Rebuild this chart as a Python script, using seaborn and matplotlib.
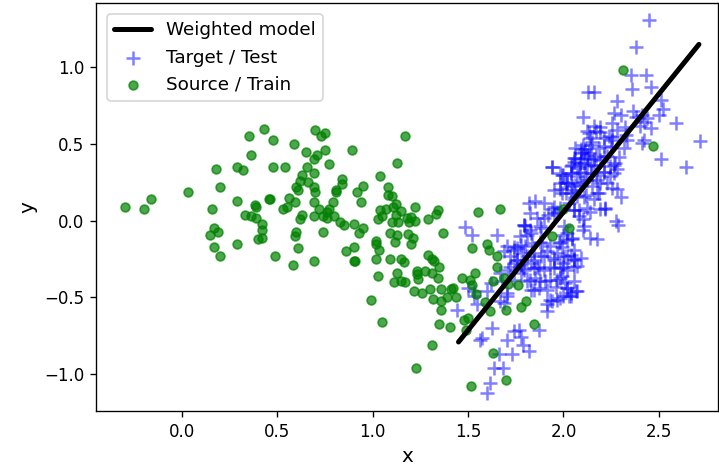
import matplotlib
matplotlib.use("Agg")
import matplotlib.pyplot as plt
import seaborn as sns

# source / train points (green)
src_x = [-0.30, -0.20, -0.16, 0.03, 0.18, 0.20, 0.16, 0.29, 0.35, 0.43, 0.36, 0.29, 0.32, 0.48, 0.48,
         0.385, 0.39, 0.455, 0.46, 0.33, 0.36, 0.39, 0.42, 0.42, 0.42, 0.40, 0.17, 0.15, 0.19, 0.29,
         0.17, 0.20, 0.49, 0.54, 0.59, 0.65, 0.70, 0.73, 0.75, 0.75, 0.71, 0.69, 0.77, 0.655, 0.63,
         0.69, 0.62, 0.66, 0.60, 0.61, 0.69, 0.70, 0.56, 0.595, 0.69, 0.58, 0.69, 0.61, 0.60, 0.595,
         0.53, 0.55, 0.63, 0.62, 0.69, 0.72, 0.74, 0.76, 0.77, 0.76, 0.79, 0.80, 0.74, 0.81, 0.81,
         0.84, 0.84, 0.89, 0.92, 0.95, 0.94, 0.83, 0.85, 0.90, 0.95, 0.93, 0.90, 0.86, 0.90, 0.91,
         1.04, 1.13, 1.17, 1.08, 1.08, 1.10, 1.04, 1.07, 1.105, 1.12, 1.15, 1.03, 1.05, 1.10, 1.12,
         1.135, 1.18, 1.09, 1.13, 1.115, 1.015, 1.02, 1.035, 1.02, 1.09, 1.15, 1.165, 1.125, 1.03,
         1.22, 1.20, 1.22, 1.19, 1.29, 1.34, 1.33, 1.37, 1.55, 1.67, 1.185, 1.21, 1.20, 1.29, 1.31,
         1.32, 1.35, 1.23, 1.23, 1.275, 1.31, 1.34, 1.24, 1.11, 1.15, 1.17, 1.215, 1.26, 1.30, 1.36,
         1.41, 1.42, 1.47, 1.51, 1.535, 1.52, 1.60, 1.61, 1.65, 1.65, 1.63, 1.52, 1.05, 1.225, 1.31,
         1.35, 1.405, 1.36, 1.315, 1.36, 1.39, 1.435, 0.99, 1.48, 1.50, 1.49, 1.515, 1.70, 1.63,
         1.54, 1.59, 1.615, 1.70, 1.69, 1.71, 1.76, 1.805, 1.78, 1.995, 2.03, 1.94, 1.845, 2.31, 2.47]
src_y = [0.09, 0.08, 0.14, 0.19, 0.34, 0.22, 0.08, 0.13, 0.55, 0.60, 0.43, 0.35, 0.33, 0.53, 0.35,
         0.10, 0.09, 0.14, 0.145, 0.04, 0.03, 0.02, -0.02, -0.06, -0.11, -0.12, -0.05, -0.09, -0.07, -0.15,
         -0.17, -0.23, -0.23, 0.35, 0.50, 0.45, 0.59, 0.55, 0.57, 0.46, 0.43, 0.40, 0.37, 0.35, 0.30,
         0.31, 0.26, 0.25, 0.22, 0.20, 0.22, 0.19, 0.15, 0.12, 0.12, -0.29, -0.26, -0.18, -0.07, -0.10,
         0.08, 0.09, 0.04, 0.01, 0.03, 0.08, 0.03, 0.02, 0.08, 0.06, 0.12, 0.03, -0.07, 0.19, 0.20,
         0.27, 0.24, 0.46, 0.19, 0.23, 0.12, -0.01, -0.03, -0.02, -0.05, -0.08, -0.17, -0.20, -0.26, -0.26,
         0.29, 0.38, 0.55, 0.22, 0.165, 0.16, 0.07, 0.08, 0.09, 0.11, 0.065, 0.01, 0.03, -0.01, 0.04,
         -0.01, 0.02, -0.08, -0.09, -0.14, -0.15, -0.13, -0.19, -0.25, -0.25, -0.25, -0.27, -0.34, -0.36,
         0.09, 0.025, 0.00, -0.01, 0.01, 0.07, 0.045, -0.08, 0.06, 0.08, -0.085, -0.11, -0.15, -0.22, -0.25,
         -0.26, -0.30, -0.33, -0.35, -0.33, -0.34, -0.375, -0.38, -0.40, -0.395, -0.40, -0.455, -0.47, -0.445, -0.445,
         -0.445, -0.435, -0.37, -0.385, -0.34, -0.42, -0.15, -0.19, -0.23, -0.30, -0.39, -0.18, -0.66, -0.96, -0.81,
         -0.67, -0.695, -0.58, -0.51, -0.52, -0.50, -0.495, -0.515, -0.645, -0.635, -0.71, -1.08, -1.04, -0.86,
         -0.48, -0.53, -0.59, -0.58, -0.375, -0.41, -0.42, -0.52, -0.565, 0.075, -0.05, -0.10, -0.67, 0.98, 0.49]

# target / test points (blue)
tgt_x = [2.45, 2.38, 2.355, 2.435, 2.36, 2.46, 2.13, 2.16, 2.28, 2.51, 2.52, 2.50, 2.10, 2.265, 2.30,
         2.365, 2.38, 2.41, 2.44, 2.59, 2.16, 2.19, 2.17, 2.255, 2.28, 2.32, 2.40, 2.125, 2.14, 2.21,
         2.24, 2.255, 2.33, 2.41, 2.715, 2.51, 2.64, 2.06, 2.09, 2.115, 2.185, 2.21, 2.055, 2.09, 2.13,
         2.16, 2.23, 2.29, 2.27, 2.04, 2.08, 2.125, 2.245, 2.28, 2.11, 2.16, 2.265, 2.00, 2.04, 2.07,
         2.115, 2.17, 2.21, 2.245, 2.02, 2.06, 2.105, 2.15, 2.19, 2.28, 1.99, 2.04, 2.07, 2.12, 2.16,
         2.185, 2.08, 2.14, 2.19, 2.22, 2.285, 2.105, 2.14, 2.175, 2.00, 2.045, 1.99, 2.02, 2.055, 2.09,
         2.00, 1.99, 2.04, 2.07, 2.00, 2.105, 2.15, 2.09, 2.125, 2.17, 2.055, 1.94, 1.99, 2.01, 1.98,
         2.045, 1.85, 1.94, 1.965, 1.92, 2.03, 2.055, 2.08, 2.105, 1.86, 1.80, 1.88, 1.83, 1.65, 2.02,
         1.98, 2.045, 1.74, 1.775, 1.79, 1.69, 1.72, 1.755, 1.89, 1.915, 1.88, 1.965, 1.95, 2.04, 2.00,
         2.055, 1.83, 1.86, 1.79, 1.845, 1.72, 1.775, 1.87, 1.93, 1.98, 1.62, 1.68, 1.74, 1.81, 1.85,
         1.905, 1.965, 2.01, 1.705, 1.67, 1.83, 1.87, 1.96, 2.02, 2.065, 2.03, 1.965, 1.915, 1.94, 1.915,
         1.625, 1.575, 1.74, 1.765, 1.705, 1.775, 1.87, 1.79, 1.82, 1.73, 1.66, 1.635, 1.685, 1.615, 1.60,
         1.485, 1.52, 1.795, 1.81, 1.755, 1.74, 1.71, 1.67, 1.78, 1.53, 1.50, 1.82, 1.44, 1.545, 1.53,
         1.60, 1.565,
         2.133, 2.194, 2.256, 2.142, 2.107, 2.133, 2.063, 1.941, 2.046, 2.089, 2.142, 2.194, 1.984, 2.037,
         2.089, 2.142, 2.212, 2.264, 1.984, 2.019, 2.089, 2.124, 2.177, 2.229, 1.949, 2.011, 2.054, 2.177,
         2.256, 1.897, 1.949, 1.984, 2.054, 2.124, 2.220, 2.107, 2.273, 2.107, 2.002, 2.299,
         1.827, 1.897, 1.949, 1.792, 1.827, 1.879, 1.774, 1.704, 1.739, 1.801, 1.836, 1.879, 1.932, 1.976,
         2.019, 2.054, 1.757, 1.809, 1.844, 1.897, 1.949, 2.002, 2.054, 1.792, 1.844, 1.897, 1.949, 2.019,
         2.072, 1.827, 1.879, 1.932, 1.984, 2.054, 1.844, 1.914, 2.019, 1.932, 1.984, 2.037, 1.704, 1.687,
         2.317, 2.334, 2.422, 2.422, 2.457, 2.212, 2.247]
tgt_y = [1.31, 1.13, 0.95, 0.95, 0.86, 0.87, 0.84, 0.84, 0.78, 0.79, 0.73, 0.69, 0.675, 0.70, 0.69,
         0.715, 0.68, 0.69, 0.67, 0.64, 0.62, 0.61, 0.585, 0.64, 0.595, 0.61, 0.62, 0.585, 0.54, 0.54,
         0.55, 0.53, 0.56, 0.51, 0.52, 0.40, 0.35, 0.475, 0.465, 0.465, 0.475, 0.485, 0.41, 0.40, 0.41,
         0.40, 0.42, 0.415, 0.38, 0.355, 0.345, 0.355, 0.355, 0.335, 0.375, 0.365, 0.365, 0.30, 0.31, 0.29,
         0.31, 0.30, 0.32, 0.29, 0.245, 0.235, 0.255, 0.225, 0.245, 0.21, 0.18, 0.18, 0.16, 0.17, 0.14,
         0.18, 0.07, 0.06, 0.08, 0.08, -0.03, -0.06, -0.11, -0.12, -0.09, -0.11, -0.17, -0.23, -0.25, -0.24,
         -0.30, -0.36, -0.47, -0.46, -0.49, 0.495, 0.515, 0.44, 0.43, 0.42, 0.385, 0.35, 0.30, 0.255, 0.21,
         0.225, 0.13, 0.08, 0.06, 0.04, 0.115, 0.07, 0.03, 0.01, 0.02, -0.035, -0.05, -0.08, -0.09, -0.08,
         -0.135, -0.12, -0.17, -0.155, -0.21, -0.20, -0.23, -0.255, -0.145, -0.20, -0.23, -0.21, -0.255, -0.22, -0.275,
         -0.30, -0.275, -0.30, -0.31, -0.21, -0.30, -0.285, -0.31, -0.30, -0.31, -0.405, -0.395, -0.385, -0.395, -0.375,
         -0.395, -0.385, -0.405, -0.47, -0.525, -0.45, -0.44, -0.43, -0.44, -0.46, -0.49, -0.515, -0.545, -0.525, -0.59,
         -0.70, -0.765, -0.72, -0.71, -0.775, -0.755, -0.71, -0.81, -0.85, -0.87, -0.87, -0.96, -0.96, -1.06, -1.12,
         -0.04, -0.09, -0.03, -0.09, -0.18, -0.275, -0.32, -0.34, -0.34, -0.46, -0.44, 0.115, -0.58, -0.545, -0.49,
         -0.46, -0.775,
         0.571, 0.582, 0.549, 0.495, 0.451, 0.441, 0.408, 0.354, 0.365, 0.376, 0.365, 0.397, 0.311, 0.311,
         0.321, 0.311, 0.321, 0.311, 0.246, 0.246, 0.246, 0.267, 0.267, 0.246, 0.202, 0.180, 0.202, 0.180,
         0.213, 0.115, 0.093, 0.083, 0.072, 0.083, 0.083, 0.158, -0.004, -0.037, -0.037, 0.158,
         0.050, 0.018, 0.050, -0.026, -0.059, -0.037, -0.102, -0.167, -0.189, -0.167, -0.145, -0.135, -0.167, -0.145,
         -0.124, -0.189, -0.254, -0.232, -0.254, -0.232, -0.243, -0.232, -0.254, -0.319, -0.308, -0.319, -0.308, -0.319,
         -0.297, -0.384, -0.395, -0.384, -0.373, -0.395, -0.450, -0.450, -0.439, -0.515, -0.504, -0.493, -0.493, -0.536,
         0.474, 0.528, 0.528, 0.647, 0.604, 0.419, 0.484]

# weighted model line
model_x = [1.45, 2.71]
model_y = [-0.79, 1.15]


def render():
    sns.set_style("ticks")
    plt.rcParams["font.family"] = ["DejaVu Sans"]
    # plain black text like matplotlib's default look
    plt.rcParams["text.color"] = "black"
    plt.rcParams["axes.labelcolor"] = "black"
    plt.rcParams["xtick.color"] = "black"
    plt.rcParams["ytick.color"] = "black"

    fig, ax = plt.subplots(figsize=(719 / 120, 475 / 120), dpi=120)
    fig.subplots_adjust(left=96 / 719, right=718 / 719, top=1 - 3 / 475, bottom=1 - 411 / 475)

    sns.scatterplot(x=tgt_x, y=tgt_y, marker="+", color="blue", alpha=0.5, s=80,
                    linewidth=1.5, label="Target / Test", ax=ax)
    sns.scatterplot(x=src_x, y=src_y, marker="o", color="green", alpha=0.7, s=28,
                    edgecolor="green", linewidth=1, label="Source / Train", ax=ax)
    sns.lineplot(x=model_x, y=model_y, color="black", linewidth=3,
                 label="Weighted model", ax=ax)

    ax.set_xlim(-0.45, 2.81)
    ax.set_ylim(-1.24, 1.42)
    ax.set_xticks([0.0, 0.5, 1.0, 1.5, 2.0, 2.5])
    ax.set_yticks([-1.0, -0.5, 0.0, 0.5, 1.0])
    ax.tick_params(labelsize=10, direction="out", length=3.5, width=0.8, color="black")
    for sp in ax.spines.values():
        sp.set_color("black")
        sp.set_linewidth(0.8)
        sp.set_visible(True)

    ax.set_xlabel("x", fontsize=12)
    ax.set_ylabel("y", fontsize=12)

    # legend order: line first, then target, then source
    h, l = ax.get_legend_handles_labels()
    order = [l.index("Weighted model"), l.index("Target / Test"), l.index("Source / Train")]
    ax.legend([h[i] for i in order], [l[i] for i in order], loc="upper left", fontsize=11,
              borderaxespad=0.6)

    fig.savefig("out.png", dpi=120)


if __name__ == "__main__":
    render()
